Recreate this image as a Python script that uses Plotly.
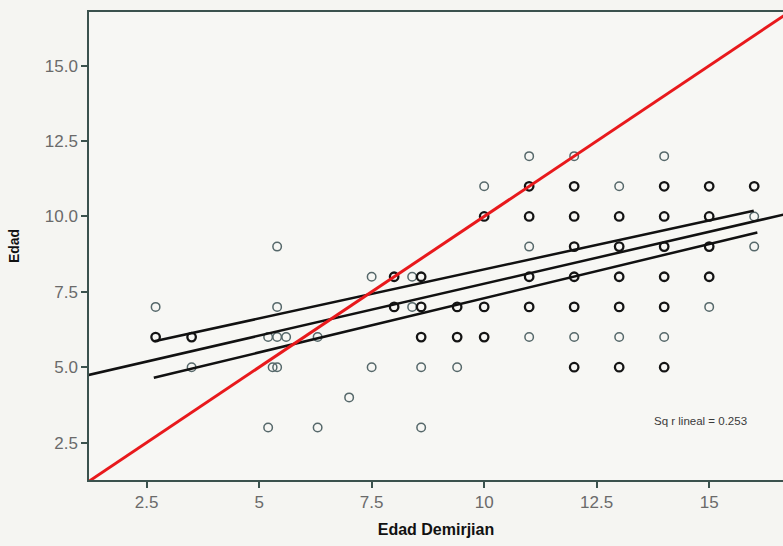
import plotly.graph_objects as go

# Scatter points (Edad Demirjian, Edad) - darker markers (overlapping cases)
dark_x = [2.7, 3.5, 8.0, 8.6, 8.0, 8.6, 9.4, 10, 8.6, 9.4, 10, 10,
          11, 12, 14, 15, 16,
          11, 12, 13, 14, 15,
          12, 13, 14, 15,
          11, 12, 13, 14, 15,
          11, 12, 13, 14,
          12, 13, 14]
dark_y = [6, 6, 8, 8, 7, 7, 7, 7, 6, 6, 6, 10,
          11, 11, 11, 11, 11,
          10, 10, 10, 10, 10,
          9, 9, 9, 9,
          8, 8, 8, 8, 8,
          7, 7, 7, 7,
          5, 5, 5]

# lighter markers (single cases)
light_x = [2.7, 5.4, 5.4, 5.2, 5.4, 5.6, 6.3, 3.5, 5.3, 5.4, 5.2, 6.3, 7.0,
           7.5, 8.4, 8.4, 7.5, 8.6, 9.4, 8.6, 10,
           11, 12, 14, 13, 16, 11, 16, 15, 11, 12, 13, 14]
light_y = [7, 9, 7, 6, 6, 6, 6, 5, 5, 5, 3, 3, 4,
           8, 8, 7, 5, 5, 5, 3, 11,
           12, 12, 12, 11, 10, 9, 9, 7, 6, 6, 6, 6]

# Reference line y = x
ref_x = [0, 20]
ref_y = [0, 20]

# Linear fit line and two group lines (endpoints)
fit_x = [1.0, 17.0]
fit_y = [4.67, 10.18]
upper_x = [2.67, 15.99]
upper_y = [5.86, 10.19]
lower_x = [2.66, 16.07]
lower_y = [4.65, 9.47]

x_ticks = [2.5, 5, 7.5, 10, 12.5, 15]
x_ticktext = ["2.5", "5", "7.5", "10", "12.5", "15"]
y_ticks = [2.5, 5.0, 7.5, 10.0, 12.5, 15.0]
y_ticktext = ["2.5", "5.0", "7.5", "10.0", "12.5", "15.0"]

fig = go.Figure()

fig.add_trace(go.Scatter(x=light_x, y=light_y, mode="markers",
                         marker=dict(symbol="circle-open", size=8.5, color="#56686a",
                                     line=dict(width=1.5, color="#56686a")),
                         showlegend=False))
fig.add_trace(go.Scatter(x=dark_x, y=dark_y, mode="markers",
                         marker=dict(symbol="circle-open", size=8.5, color="#141414",
                                     line=dict(width=2.3, color="#141414")),
                         showlegend=False))

for lx, ly in [(fit_x, fit_y), (upper_x, upper_y), (lower_x, lower_y)]:
    fig.add_trace(go.Scatter(x=lx, y=ly, mode="lines",
                             line=dict(color="#111111", width=2.5),
                             showlegend=False))

fig.add_trace(go.Scatter(x=ref_x, y=ref_y, mode="lines",
                         line=dict(color="#e8191c", width=3),
                         showlegend=False))

fig.add_annotation(x=14.8, y=3.22, xref="x", yref="y", text="Sq r lineal = 0.253",
                   showarrow=False, font=dict(size=11.5, color="#3a3a3a",
                                               family="Liberation Sans Narrow, Liberation Sans, Arial"))

fig.update_layout(
    width=783, height=546,
    margin=dict(l=89, r=0, t=12, b=66),
    paper_bgcolor="#f5f5f2",
    plot_bgcolor="#f7f7f4",
    font=dict(family="Liberation Sans, Arial", color="#666666"),
    xaxis=dict(range=[1.22, 16.64], tickvals=x_ticks, ticktext=x_ticktext,
               showgrid=False, zeroline=False, showline=True, mirror=True,
               linecolor="#3b524e", linewidth=1.5,
               ticks="outside", ticklen=6, tickcolor="#3b524e", tickwidth=1.5,
               tickfont=dict(size=17, color="#6a6a6a"),
               title=dict(text="<b>Edad Demirjian</b>", standoff=13,
                          font=dict(size=16, color="#111111"))),
    yaxis=dict(range=[1.26, 16.78], tickvals=y_ticks, ticktext=y_ticktext,
               showgrid=False, zeroline=False, showline=True, mirror=False,
               linecolor="#3b524e", linewidth=1.5,
               ticks="outside", ticklen=6, tickcolor="#3b524e", tickwidth=1.5,
               tickfont=dict(size=17, color="#6a6a6a"),
               title=dict(text="<b>Edad</b>", standoff=22,
                          font=dict(size=14, color="#111111"))),
)

fig.write_html("out.html")
